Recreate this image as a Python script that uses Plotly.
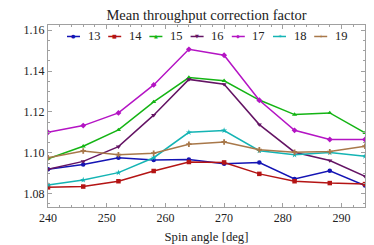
import plotly.graph_objects as go

angles = [240, 246, 252, 258, 264, 270, 276, 282, 288, 294]
names = ["13", "14", "15", "16", "17", "18", "19"]
s13 = [1.0920, 1.0943, 1.0976, 1.0965, 1.0967, 1.0946, 1.0952, 1.0872, 1.0912, 1.0840]
s14 = [1.0831, 1.0835, 1.0861, 1.0911, 1.0955, 1.0953, 1.0897, 1.0861, 1.0852, 1.0847]
s15 = [1.0971, 1.1032, 1.1112, 1.1249, 1.1368, 1.1352, 1.1258, 1.1187, 1.1195, 1.1097]
s16 = [1.0920, 1.0958, 1.1030, 1.1184, 1.1359, 1.1335, 1.1138, 1.1003, 1.0962, 1.0885]
s17 = [1.1100, 1.1133, 1.1195, 1.1332, 1.1506, 1.1477, 1.1257, 1.1110, 1.1065, 1.1065]
s18 = [1.0843, 1.0867, 1.0903, 1.0976, 1.1100, 1.1109, 1.1010, 1.0990, 1.1001, 1.0983]
s19 = [1.0976, 1.1009, 1.0991, 1.0998, 1.1042, 1.1053, 1.1015, 1.1003, 1.1006, 1.1032]
series = [s13, s14, s15, s16, s17, s18, s19]

colors = ["#1414b4", "#b41414", "#14b414", "#641464", "#b414c4", "#14b4b4", "#a8784a"]
symbols = ["circle", "square", "triangle-up", "triangle-down", "diamond", "star", "cross"]
glyphs = ["●", "■", "▲", "▼", "◆", "✶", "+"]

font = "Liberation Serif"
W, H = 374, 245
ML, MR, MT, MB = 40, 17, 17, 33
PW, PH = W - ML - MR, H - MT - MB

fig = go.Figure()
for n, ys, c, sym in zip(names, series, colors, symbols):
    fig.add_trace(go.Scatter(x=angles, y=ys, name=n, mode="lines+markers",
                             line=dict(color=c, width=1.5),
                             marker=dict(symbol=sym, size=4.5, color=c),
                             showlegend=False))

# Custom compact legend (line sample + marker glyph + label), placed in paper coordinates
def px2paper_x(px):
    return (px - ML) / PW

def px2paper_y(py):
    return (H - MB - py) / PH

leg_y = px2paper_y(29.3)
for i, (n, c, g) in enumerate(zip(names, colors, glyphs)):
    x0 = 59 + 41.2 * i
    fig.add_shape(type="line", xref="paper", yref="paper",
                  x0=px2paper_x(x0), x1=px2paper_x(x0 + 13), y0=leg_y, y1=leg_y,
                  line=dict(color=c, width=1.5))
    fig.add_annotation(xref="paper", yref="paper", x=px2paper_x(x0 + 6.5), y=leg_y,
                       text=g, showarrow=False, xanchor="center", yanchor="middle",
                       font=dict(family="DejaVu Sans", size=5, color=c))
    fig.add_annotation(xref="paper", yref="paper", x=px2paper_x(x0 + 18.5), y=leg_y,
                       text=n, showarrow=False, xanchor="left", yanchor="middle",
                       font=dict(family=font, size=12.5, color="#222"))

axis_common = dict(showline=True, linecolor="#a0a0a0", linewidth=1, mirror="allticks",
                   ticks="inside", ticklen=4, tickcolor="#a0a0a0", showgrid=False,
                   zeroline=False, tickfont=dict(family=font, size=12, color="#222"))
fig.update_xaxes(range=[240, 294], dtick=10, tick0=240,
                 minor=dict(ticks="inside", ticklen=2, dtick=2, tickcolor="#a0a0a0", showgrid=False),
                 title=dict(text="Spin angle [deg]", font=dict(family=font, size=12.7, color="#222"), standoff=7),
                 **axis_common)
fig.update_yaxes(range=[1.0735, 1.1625], dtick=0.02, tick0=1.08, tickformat=".2f",
                 minor=dict(ticks="inside", ticklen=2, dtick=0.005, tickcolor="#a0a0a0", showgrid=False),
                 **axis_common)
fig.update_layout(
    width=W, height=H,
    margin=dict(l=ML, r=MR, t=MT, b=MB),
    plot_bgcolor="white", paper_bgcolor="white",
    title=dict(text="Mean throughput correction factor", x=198.5 / W, xanchor="center",
               y=1 - 2 / H, yanchor="top", pad=dict(t=0, b=0),
               font=dict(family=font, size=14.5, color="#222")),
    showlegend=False,
)
fig.write_html("out.html")
